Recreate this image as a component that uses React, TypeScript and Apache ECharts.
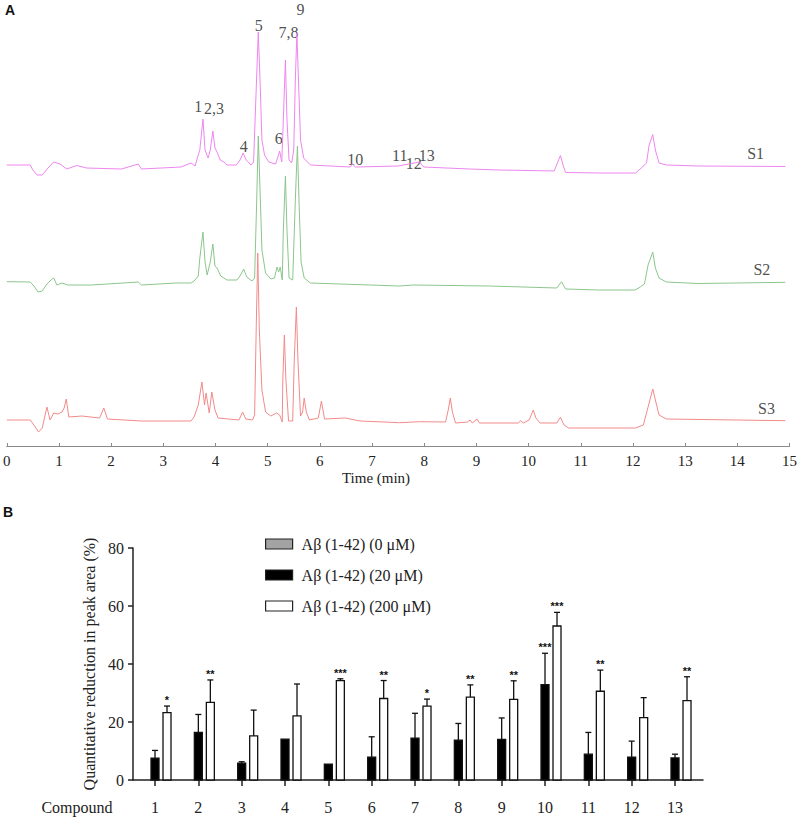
import React, { useEffect, useRef } from 'react';
import * as echarts from 'echarts';

// ---------- Panel A: chromatograms (time in min, signal in arbitrary units) ----------
const timeTicks = [0, 1, 2, 3, 4, 5, 6, 7, 8, 9, 10, 11, 12, 13, 14, 15];

const traceS1: [number, number][] = [
  [0, 2], [0.45, 2], [0.5, -3], [0.58, -8], [0.68, -8], [0.79, -1], [0.9, 5], [1.02, 3], [1.15, -2],
  [1.34, 1.5], [1.53, -1], [2.2, -2], [2.52, 3], [2.58, -2], [3.34, 0], [3.53, 4], [3.61, 1], [3.67, 12],
  [3.7, 17], [3.76, 48], [3.8, 17], [3.86, 9], [3.9, 17], [3.95, 36], [3.99, 19], [4.03, 15], [4.09, 7],
  [4.16, 5], [4.22, 2], [4.4, 2], [4.47, 7], [4.53, 14], [4.59, 7], [4.68, 2], [4.73, 5], [4.78, 77],
  [4.82, 135], [4.86, 77], [4.89, 27], [4.94, 12], [5.02, 5], [5.15, 3], [5.19, 9], [5.23, 16], [5.27, 5],
  [5.3, 47], [5.34, 107], [5.37, 47], [5.41, 7], [5.46, 4], [5.5, 17], [5.53, 87], [5.56, 134], [5.59, 87],
  [5.63, 27], [5.69, 9], [5.82, 2], [6.58, 0], [6.62, 3], [6.68, 0], [7.5, 1], [7.91, 5], [7.99, 0],
  [8.87, -2], [9.44, -3], [10.49, -4], [10.56, 5], [10.61, 11.5], [10.66, 2], [10.71, -5.5], [11.34, -6],
  [12.05, -6], [12.16, -1], [12.26, 4], [12.31, 22], [12.38, 32.5], [12.43, 17], [12.5, 4], [12.64, 2],
  [13.25, 1], [14.92, 0.5],
];

const traceS2: [number, number][] = [
  [0, 1.3], [0.45, 1], [0.52, -3], [0.6, -9], [0.68, -8], [0.77, -1], [0.87, 4], [0.9, 5], [0.96, -2],
  [1.06, 0], [1.17, -2], [1.63, -2], [2.52, 1], [2.58, -2], [3.25, 0], [3.53, 0], [3.59, 2], [3.67, 7],
  [3.7, 25], [3.76, 51], [3.8, 21], [3.84, 8], [3.9, 21], [3.95, 39], [3.99, 17], [4.03, 15], [4.1, 7],
  [4.22, 3], [4.41, 3], [4.47, 7], [4.54, 14], [4.6, 6], [4.7, 2], [4.75, 5], [4.79, 83], [4.82, 147],
  [4.86, 83], [4.89, 33], [4.96, 10], [5.06, 4], [5.13, 5], [5.18, 16], [5.21, 11], [5.24, 16], [5.28, 3],
  [5.3, 53], [5.34, 107], [5.37, 53], [5.41, 5], [5.48, 3], [5.53, 83], [5.57, 137], [5.6, 83], [5.64, 21],
  [5.7, 5], [5.82, 0], [7.53, -3], [7.78, -2], [9.25, -3], [10.54, -5], [10.63, 1.3], [10.71, -6],
  [11.34, -7], [12.04, -7], [12.14, -4], [12.22, -1], [12.29, 18], [12.38, 31], [12.43, 15], [12.5, 5],
  [12.64, 1], [13.25, -0.5], [14.92, 0.7],
];

const traceS3: [number, number][] = [
  [0, 0], [0.45, 0], [0.52, -5], [0.61, -12], [0.68, -8], [0.77, 13], [0.83, 0], [0.9, 7], [0.98, 6],
  [1.06, 8], [1.1, 12], [1.14, 21], [1.19, 3], [1.44, 4], [1.78, 2], [1.86, 12], [1.93, 1], [2.58, -1],
  [3.53, -1], [3.59, 3], [3.67, 15], [3.74, 38], [3.79, 15], [3.82, 27], [3.88, 7], [3.93, 28], [3.99, 10],
  [4.05, 2], [4.45, 0], [4.52, 8], [4.58, 1], [4.71, 0], [4.75, 5], [4.78, 90], [4.81, 167], [4.84, 90],
  [4.89, 30], [4.96, 8], [5.06, 4], [5.17, 7], [5.23, 5], [5.28, -2], [5.29, 40], [5.32, 85], [5.35, 40],
  [5.4, -1], [5.48, -1], [5.51, 60], [5.55, 113], [5.58, 60], [5.63, 4], [5.67, 8], [5.7, 22], [5.74, 8],
  [5.8, 0], [5.97, 2], [6.03, 19], [6.09, 1], [6.49, 2], [6.77, -1], [7.53, -2.7], [7.91, -1.7], [8.41, -2],
  [8.46, 10], [8.5, 22], [8.54, 8], [8.6, -3], [8.83, -2], [8.88, 0], [8.92, -3], [9.01, 1], [9.06, -3],
  [9.8, -3], [9.85, -0.7], [9.9, -3], [10.01, 0], [10.09, 10], [10.14, 2], [10.22, -3], [10.54, -3],
  [10.61, 2.7], [10.68, -5], [10.77, -8], [12.05, -8], [12.2, -5], [12.3, 15], [12.38, 31], [12.43, 20],
  [12.5, 5], [12.64, 1], [14.92, -0.7],
];

// peak annotations on trace S1: [time, signal above S1 baseline, label]
const peakLabels: [number, number, string][] = [
  [3.67, 61, '1'], [3.97, 59, '2,3'], [4.54, 21, '4'], [4.83, 142, '5'], [5.21, 29, '6'],
  [5.4, 135, '7,8'], [5.63, 158, '9'], [6.68, 8, '10'], [7.53, 12, '11'], [7.8, 4, '12'], [8.05, 12, '13'],
];
const traceNames = ['S1', 'S2', 'S3'];
// label anchors per trace: [time, signal above its baseline]
const traceNameAnchors: [number, number][] = [[14.35, 14], [14.47, 14], [14.56, 12]];

// ---------- Panel B: bar chart ----------
const compounds = [1, 2, 3, 4, 5, 6, 7, 8, 9, 10, 11, 12, 13];
const groupNames = ['Aβ (1-42) (0 μM)', 'Aβ (1-42) (20 μM)', 'Aβ (1-42) (200 μM)'];
const ctrlMeans = [0, 0, 0, 0, 0, 0, 0, 0, 0, 0, 0, 0, 0];
const ctrlErrTop = [0, 0, 0, 0, 0, 0, 0, 0, 0, 0, 0, 0, 0];
const ctrlStars = ['', '', '', '', '', '', '', '', '', '', '', '', ''];
const lowMeans = [7.5, 16.4, 5.8, 14.1, 5.5, 7.9, 14.4, 13.7, 14.0, 32.9, 8.9, 7.9, 7.6];
const lowErrTop = [10.2, 22.6, 6.3, 14.2, 5.5, 14.9, 23.0, 19.5, 21.4, 43.7, 16.4, 13.4, 8.9];
const lowStars = ['', '', '', '', '', '', '', '', '', '***', '', '', ''];
const highMeans = [23.2, 26.8, 15.2, 22.1, 34.3, 28.1, 25.5, 28.6, 27.8, 53.1, 30.6, 21.5, 27.4];
const highErrTop = [25.5, 34.5, 24.1, 33.1, 34.9, 34.3, 27.9, 32.8, 34.2, 57.8, 37.9, 28.4, 35.6];
const highStars = ['*', '**', '', '', '***', '**', '*', '**', '**', '***', '**', '', '**'];
const yTicksB = [0, 20, 40, 60, 80];

const SERIF = '"Liberation Serif", "Times New Roman", serif';
const SANS = '"Liberation Sans", Arial, sans-serif';

const OFFSETS = [279, 163, 26];
const TRACE_COLORS = ['#ef86ef', '#8cc68c', '#f28a8a'];

function barSeries(name: string, means: number[], errs: number[], stars: string[], dx: number, fill: string, show: boolean) {
  return {
    type: 'custom',
    name,
    xAxisIndex: 1,
    yAxisIndex: 1,
    itemStyle: { color: fill, borderColor: '#111', borderWidth: 1.2 },
    data: compounds.map((c, i) => [c, means[i], errs[i]]),
    renderItem: (params: any, api: any) => {
      if (!show) return { type: 'group', children: [] };
      const i = params.dataIndex;
      const x = api.value(0);
      const m = api.value(1);
      const e = api.value(2);
      const base = api.coord([x, 0]);
      const top = api.coord([x, m]);
      const err = api.coord([x, e]);
      const cx = base[0] + dx;
      const children: any[] = [];
      children.push({
        type: 'rect',
        shape: { x: cx - 4, y: top[1], width: 8, height: base[1] - top[1] },
        style: { fill, stroke: '#111', lineWidth: 1.3 },
      });
      if (e - m > 0.3) {
        children.push({ type: 'line', shape: { x1: cx, y1: top[1], x2: cx, y2: err[1] }, style: { stroke: '#111', lineWidth: 1.3 } });
        children.push({ type: 'line', shape: { x1: cx - 3, y1: err[1], x2: cx + 3, y2: err[1] }, style: { stroke: '#111', lineWidth: 1.3 } });
      }
      if (stars[i]) {
        children.push({
          type: 'text',
          style: { text: stars[i], x: cx, y: err[1] - 6, align: 'center', verticalAlign: 'middle', font: `bold 11px ${SANS}`, fill: '#111' },
        });
      }
      return { type: 'group', children };
    },
  };
}

export default function App() {
  const ref = useRef<HTMLDivElement>(null);
  useEffect(() => {
    if (!ref.current) return;
    const chart = echarts.init(ref.current, undefined, { renderer: 'svg' });
    const traces = [traceS1, traceS2, traceS3];
    const option: any = {
      animation: false,
      backgroundColor: '#fff',
      grid: [
        { left: 4.5, right: 8, top: 0, height: 446 },
        { left: 133, width: 570, top: 548, height: 232 },
      ],
      xAxis: [
        {
          gridIndex: 0, type: 'value', min: 0, max: 15, interval: 1,
          axisLine: { show: true, lineStyle: { color: '#8a8a8a', width: 1 } },
          axisTick: { show: true, inside: true, length: 3, lineStyle: { color: '#8a8a8a' } },
          axisLabel: { color: '#222', fontFamily: SERIF, fontSize: 15, margin: 7, showMaxLabel: true, showMinLabel: true },
          splitLine: { show: false },
        },
        {
          gridIndex: 1, type: 'value', min: 0.492, max: 13.646,
          axisLine: { show: true, lineStyle: { color: '#222', width: 1.5 } },
          axisTick: { show: true, length: 6, customValues: compounds, lineStyle: { color: '#222', width: 1.5 } },
          axisLabel: { color: '#222', fontFamily: SERIF, fontSize: 16, margin: 19, customValues: compounds },
          splitLine: { show: false },
        },
      ],
      yAxis: [
        { gridIndex: 0, type: 'value', min: 0, max: 446, show: false },
        {
          gridIndex: 1, type: 'value', min: 0, max: 80, interval: 20,
          name: 'Quantitative reduction in peak area (%)', nameLocation: 'middle', nameGap: 36,
          nameTextStyle: { fontFamily: SERIF, fontSize: 16, color: '#222' },
          axisLine: { show: true, lineStyle: { color: '#222', width: 1.5 } },
          axisTick: { show: true, length: 5, lineStyle: { color: '#222', width: 1.5 } },
          axisLabel: { color: '#222', fontFamily: SERIF, fontSize: 16, margin: 9 },
          splitLine: { show: false },
        },
      ],
      legend: {
        orient: 'vertical', left: 260, top: 530, itemWidth: 27, itemHeight: 10, itemGap: 13,
        selectedMode: false, icon: 'rect',
        textStyle: { fontFamily: SERIF, fontSize: 16, color: '#222', lineHeight: 18, padding: [0, 0, 0, 4] },
        data: [
          { name: groupNames[0], itemStyle: { color: '#a3a3a3', borderColor: '#222', borderWidth: 1.2 } },
          { name: groupNames[1], itemStyle: { color: '#000', borderColor: '#222', borderWidth: 1.2 } },
          { name: groupNames[2], itemStyle: { color: '#fff', borderColor: '#222', borderWidth: 1.2 } },
        ],
      },
      series: [
        ...traces.map((tr, k) => ({
          type: 'line', name: traceNames[k], xAxisIndex: 0, yAxisIndex: 0, showSymbol: false, symbol: 'none',
          lineStyle: { color: TRACE_COLORS[k], width: 1 }, itemStyle: { color: TRACE_COLORS[k] },
          data: tr.map(([t, v]) => [t, v + OFFSETS[k]]), z: 3 - k,
        })),
        {
          type: 'scatter', xAxisIndex: 0, yAxisIndex: 0, symbolSize: 1, itemStyle: { color: 'rgba(0,0,0,0)' },
          data: peakLabels.map(([t, v, s]) => [t, v + OFFSETS[0], s]),
          label: { show: true, position: 'inside', formatter: (p: any) => p.data[2], fontFamily: SERIF, fontSize: 16, color: '#222' },
        },
        {
          type: 'scatter', xAxisIndex: 0, yAxisIndex: 0, symbolSize: 1, itemStyle: { color: 'rgba(0,0,0,0)' },
          data: traceNameAnchors.map(([t, v], k) => [t, v + OFFSETS[k], traceNames[k]]),
          label: { show: true, position: 'inside', formatter: (p: any) => p.data[2], fontFamily: SERIF, fontSize: 16, color: '#222' },
        },
        barSeries(groupNames[0], ctrlMeans, ctrlErrTop, ctrlStars, -12, '#a3a3a3', false),
        barSeries(groupNames[1], lowMeans, lowErrTop, lowStars, 0, '#000', true),
        barSeries(groupNames[2], highMeans, highErrTop, highStars, 12, '#fff', true),
      ],
      graphic: [
        { type: 'text', left: 5, top: 3, style: { text: 'A', font: `bold 14px ${SANS}`, fill: '#111' } },
        { type: 'text', left: 3, top: 505, style: { text: 'B', font: `bold 14px ${SANS}`, fill: '#111' } },
        { type: 'text', x: 376, y: 478, style: { text: 'Time (min)', font: `15px ${SERIF}`, fill: '#222', align: 'center', verticalAlign: 'middle' } },
        { type: 'text', x: 77, y: 807, style: { text: 'Compound', font: `16px ${SERIF}`, fill: '#222', align: 'center', verticalAlign: 'middle' } },
      ],
    };
    chart.setOption(option);
    return () => chart.dispose();
  }, []);
  return <div ref={ref} style={{ position: 'absolute', left: 0, top: 0, width: 800, height: 832 }} />;
}
